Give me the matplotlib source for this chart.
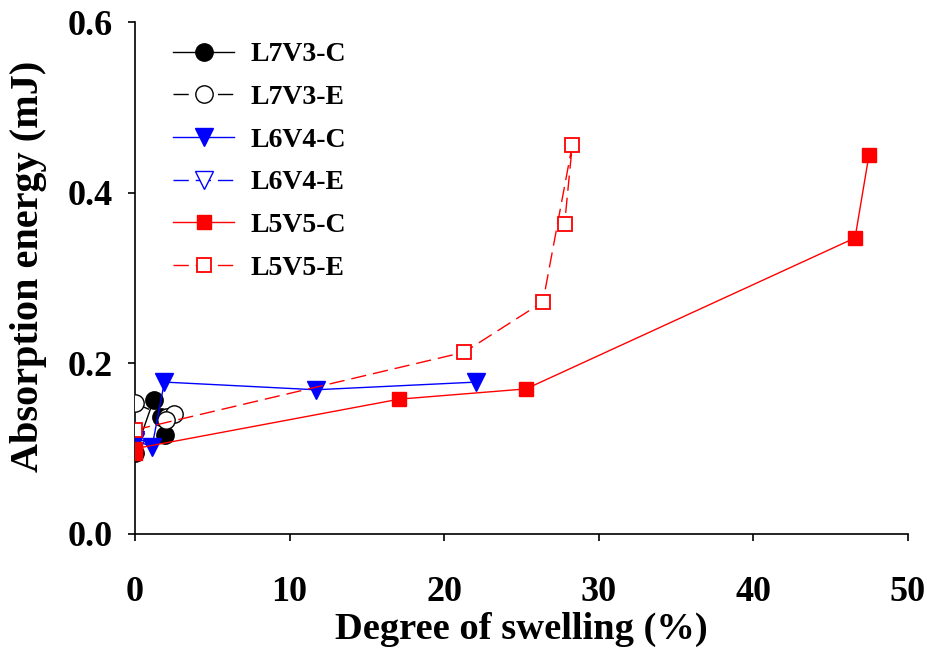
import matplotlib.pyplot as plt

# degree of swelling (%) vs absorption energy (mJ)
l7v3_c_x = [0.0, 1.2, 1.7, 1.95]
l7v3_c_y = [0.095, 0.157, 0.137, 0.116]
l7v3_e_x = [0.0, 2.1, 2.5, 2.0]
l7v3_e_y = [0.153, 0.137, 0.141, 0.133]
l6v4_c_x = [0.0, 1.1, 1.9, 11.7, 22.1]
l6v4_c_y = [0.110, 0.102, 0.178, 0.169, 0.178]
l6v4_e_x = [0.0, 0.0]
l6v4_e_y = [0.100, 0.108]
l5v5_c_x = [0.0, 0.0, 17.1, 25.3, 46.6, 47.5]
l5v5_c_y = [0.095, 0.100, 0.158, 0.170, 0.347, 0.444]
l5v5_e_x = [0.0, 21.3, 26.4, 28.3, 27.8]
l5v5_e_y = [0.122, 0.213, 0.272, 0.456, 0.363]

plt.rcParams['font.family'] = ['Liberation Serif', 'DejaVu Serif']
plt.rcParams['font.weight'] = 'bold'

fig = plt.figure(figsize=(9.28, 6.48), dpi=100)
ax = fig.add_axes([0.1455, 0.176, 0.8325, 0.790])

dash = (0, (11, 5))
ms = 12.5
lw = 1.0

ax.plot(l7v3_c_x, l7v3_c_y, '-', color='black', lw=lw, marker='o', ms=ms,
        mfc='black', mec='black', label='L7V3-C', zorder=3)
ax.plot(l7v3_e_x, l7v3_e_y, ls=dash, color='black', lw=lw, marker='o', ms=ms,
        mfc='white', mec='black', label='L7V3-E', zorder=3)
ax.plot(l6v4_c_x, l6v4_c_y, '-', color='blue', lw=lw, marker='v', ms=ms,
        mfc='blue', mec='blue', label='L6V4-C', zorder=4)
ax.plot(l6v4_e_x, l6v4_e_y, ls=dash, color='blue', lw=lw, marker='v', ms=ms,
        mfc='white', mec='blue', label='L6V4-E', zorder=2)
ax.plot(l5v5_c_x, l5v5_c_y, '-', color='red', lw=lw, marker='s', ms=ms - 1.8,
        mfc='red', mec='red', label='L5V5-C', zorder=5)
ax.plot(l5v5_e_x, l5v5_e_y, ls=dash, color='red', lw=lw, marker='s', ms=ms - 1.8,
        mfc='white', mec='red', mew=1.3, label='L5V5-E', zorder=6)

ax.set_xlim(0, 50)
ax.set_ylim(0, 0.6)
ax.set_xticks([0, 10, 20, 30, 40, 50])
ax.set_yticks([0.0, 0.2, 0.4, 0.6])
ax.set_yticklabels(['0.0', '0.2', '0.4', '0.6'])
ax.tick_params(direction='out', length=5, width=1.2, labelsize=26)
ax.tick_params(axis='x', pad=25)
ax.tick_params(axis='y', pad=11)
for s in ['top', 'right']:
    ax.spines[s].set_visible(False)
for s in ['left', 'bottom']:
    ax.spines[s].set_linewidth(1.2)

ax.set_xlabel('Degree of swelling (%)', fontsize=27.7, fontweight='bold', labelpad=2)
ax.set_ylabel('Absorption energy (mJ)', fontsize=29, fontweight='bold')
ax.yaxis.set_label_coords(-0.114, 0.523)

ax.legend(loc='upper left', bbox_to_anchor=(0.017, 1.01), frameon=False,
          fontsize=20, handlelength=2.2, labelspacing=0.62, handletextpad=0.6)

fig.savefig('out.png', dpi=100)
